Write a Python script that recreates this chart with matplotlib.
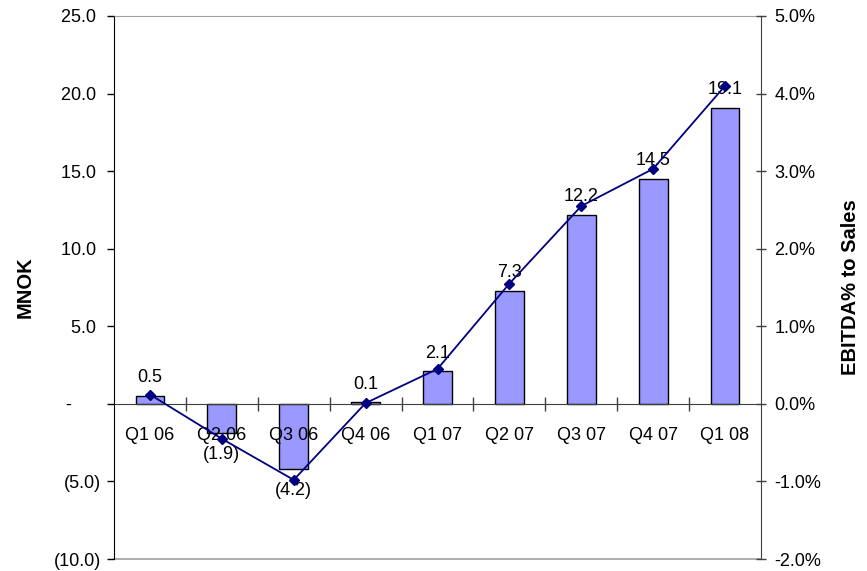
import numpy as np
import matplotlib.pyplot as plt
from matplotlib.ticker import FuncFormatter, FixedLocator

plt.rcParams['font.family'] = ['Liberation Sans', 'DejaVu Sans']

quarters = ['Q1 06', 'Q2 06', 'Q3 06', 'Q4 06', 'Q1 07', 'Q2 07', 'Q3 07', 'Q4 07', 'Q1 08']
ebitda = [0.5, -1.9, -4.2, 0.1, 2.1, 7.3, 12.2, 14.5, 19.1]
margin = [0.12, -0.45, -0.98, 0.01, 0.45, 1.55, 2.55, 3.03, 4.10]

fig = plt.figure(figsize=(8.67, 5.71), dpi=100)
ax = fig.add_axes([114/867, 12/571, (761-114)/867, (559-16)/571])
x = np.arange(len(quarters))

ax.bar(x, ebitda, width=0.4, color='#9999FF', edgecolor='black', linewidth=1, zorder=2)
ax.set_xlim(-0.5, len(quarters) - 0.5)
ax.set_ylim(-10, 25)
ax.set_axisbelow(False)

# accounting style: negatives in brackets, zero as a dash
def mnok(v, pos):
    if abs(v) < 1e-9:
        return '-      '
    if v < 0:
        return '(%.1f)' % -v
    return '%.1f ' % v

ax.yaxis.set_major_locator(FixedLocator(np.arange(-10, 26, 5)))
ax.yaxis.set_major_formatter(FuncFormatter(mnok))
ax.tick_params(axis='y', labelsize=13, direction='out', length=5, width=1, pad=4)
ax.set_ylabel('MNOK', fontsize=14.5, fontweight='bold')
ax.yaxis.set_label_coords(-0.123, 0.5)

# category axis runs through zero
ax.spines['bottom'].set_position(('data', 0))
ax.spines['bottom'].set_color('#404040')
ax.spines['top'].set_color('#a0a0a0')
ax.spines['right'].set_visible(False)
ax.plot([0, 1], [0, 0], transform=ax.transAxes, color='#a0a0a0', lw=1.2, clip_on=False)
ax.set_xticks(x)
ax.set_xticklabels(quarters, fontsize=13)
ax.tick_params(axis='x', which='major', length=0, pad=17)
ax.set_xticks(np.arange(0.5, len(quarters) - 1, 1), minor=True)
ax.tick_params(axis='x', which='minor', direction='inout', length=9.5, width=1, color='#404040')

for xi, v in zip(x, ebitda):
    lab = '%.1f' % v if v >= 0 else '(%.1f)' % -v
    if v >= 0:
        ax.annotate(lab, (xi, v), xytext=(0, 7), textcoords='offset points',
                    ha='center', va='bottom', fontsize=13, zorder=5)
    else:
        ax.annotate(lab, (xi, v), xytext=(0, -9), textcoords='offset points',
                    ha='center', va='top', fontsize=13, zorder=5)

ax2 = ax.twinx()
ax2.plot(x, np.array(margin) / 100, color='#000080', lw=1.3, marker='D', markersize=5.5, zorder=3)
ax2.set_ylim(-0.02, 0.05)
ax2.yaxis.set_major_locator(FixedLocator(np.arange(-0.02, 0.051, 0.01)))
ax2.yaxis.set_major_formatter(FuncFormatter(lambda v, p: '%.1f%%' % (v * 100)))
ax2.tick_params(axis='y', labelsize=13, direction='inout', length=7.5, width=1, color='#404040', pad=6)
for s in ['left', 'top', 'bottom']:
    ax2.spines[s].set_visible(False)
ax2.spines['right'].set_color('#404040')
ax2.set_ylabel('EBITDA% to Sales', fontsize=14.5, fontweight='bold', labelpad=14)

fig.savefig('out.png', dpi=100)
